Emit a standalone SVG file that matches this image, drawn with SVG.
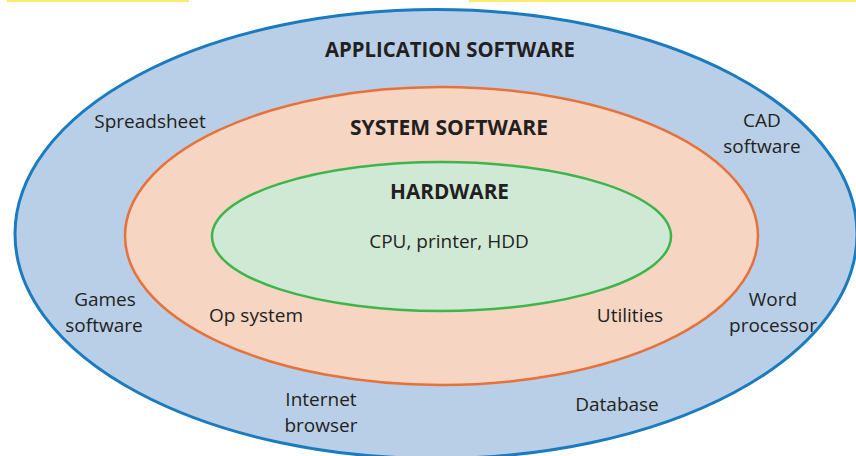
<svg xmlns="http://www.w3.org/2000/svg" width="856" height="456" viewBox="0 0 856 456">
<style>
.t{font-family:"Open Sans","Noto Sans","Liberation Sans",sans-serif;font-size:19px;fill:#231f20;text-anchor:middle}
.b{font-weight:700;font-size:20.5px}
</style>
<rect width="856" height="456" fill="#ffffff"/>
<rect x="7" y="0" width="182" height="2" fill="#fcec6a"/>
<rect x="469" y="0" width="387" height="2" fill="#fcec6a"/>
<g id="application">
<ellipse cx="436" cy="234" rx="421" ry="224.5" fill="#b8cfe7" stroke="#1b7bbf" stroke-width="3"/>
<text class="t b" x="450" y="57" textLength="250" lengthAdjust="spacingAndGlyphs">APPLICATION SOFTWARE</text>
<text class="t" x="150" y="128">Spreadsheet</text>
<text class="t" x="762" y="127">CAD</text>
<text class="t" x="762" y="153">software</text>
<text class="t" x="105" y="306">Games</text>
<text class="t" x="104" y="332">software</text>
<text class="t" x="773" y="306">Word</text>
<text class="t" x="773" y="332">processor</text>
<text class="t" x="321" y="406">Internet</text>
<text class="t" x="321" y="432">browser</text>
<text class="t" x="617" y="411">Database</text>
</g>
<g id="system">
<ellipse cx="441.5" cy="236" rx="316.5" ry="149" fill="#f6d5c2" stroke="#e8713a" stroke-width="2.5"/>
<text class="t b" x="449" y="135" textLength="198" lengthAdjust="spacingAndGlyphs">SYSTEM SOFTWARE</text>
<text class="t" x="256" y="322">Op system</text>
<text class="t" x="630" y="322">Utilities</text>
</g>
<g id="hardware">
<ellipse cx="441.5" cy="236.5" rx="229.5" ry="74.5" fill="#d0e9d5" stroke="#3db54b" stroke-width="2.5"/>
<text class="t b" x="449.5" y="199" textLength="119" lengthAdjust="spacingAndGlyphs">HARDWARE</text>
<text class="t" x="449" y="248">CPU, printer, HDD</text>
</g>
<g id="connectors"/>
</svg>
